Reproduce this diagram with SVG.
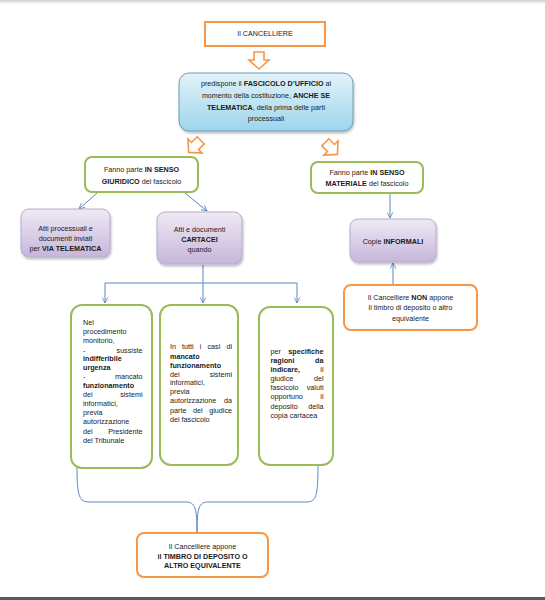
<svg xmlns="http://www.w3.org/2000/svg" width="545" height="600" viewBox="0 0 545 600">
<defs>
<style>
text{font-family:"Liberation Sans",Arial,sans-serif;font-size:7.2px;fill:#1a1a1a}
.c{text-anchor:middle}
.e{text-anchor:end}
.b{font-weight:bold}
.or{fill:#fff;stroke:#F79646;stroke-width:2}
.gr{fill:#fff;stroke:#9BBB59;stroke-width:2}
.pu{fill:url(#gp);stroke:#B8A8CF;stroke-width:1;filter:url(#sh)}
.bl{fill:url(#gb);stroke:#6E9AB8;stroke-width:1;filter:url(#sh)}
.ar{fill:#fff;stroke:#F79646;stroke-width:1.6;stroke-linejoin:miter}
.cn{fill:none;stroke:#5B87BF;stroke-width:1}
</style>
<linearGradient id="gp" x1="0" y1="0" x2="0" y2="1"><stop offset="0" stop-color="#EFEAF5"/><stop offset="1" stop-color="#C6B6DA"/></linearGradient>
<linearGradient id="gb" x1="0" y1="0" x2="0" y2="1"><stop offset="0" stop-color="#E3F3F9"/><stop offset="1" stop-color="#9DD6EC"/></linearGradient>
<linearGradient id="gt" x1="0" y1="0" x2="0" y2="1"><stop offset="0" stop-color="#cfcfcf"/><stop offset="1" stop-color="#ffffff"/></linearGradient>
<filter id="sh" x="-10%" y="-10%" width="130%" height="140%"><feDropShadow dx="1" dy="2" stdDeviation="1.2" flood-color="#000" flood-opacity="0.25"/></filter>
<marker id="v" viewBox="0 0 10 10" refX="9" refY="5" markerWidth="7" markerHeight="7" orient="auto" markerUnits="userSpaceOnUse"><path d="M1,1 L9,5 L1,9" fill="none" stroke="#5B87BF" stroke-width="1.2"/></marker>
<path id="harrow" d="M-5,-8 L5,-8 L5,0 L10,0 L0,9 L-10,0 L-5,0 Z"/>
</defs>
<rect x="0" y="0" width="545" height="600" fill="#fff"/>
<rect x="0" y="0" width="545" height="4" fill="url(#gt)"/>
<rect x="0" y="597" width="545" height="3" fill="#5a5a5a"/>

<g id="connectors">
<use href="#harrow" class="ar" transform="translate(259,60)"/>
<use href="#harrow" class="ar" transform="translate(195,146) rotate(45)"/>
<use href="#harrow" class="ar" transform="translate(331,148) rotate(-45)"/>
<line class="cn" x1="97" y1="193" x2="79" y2="209" marker-end="url(#v)"/>
<line class="cn" x1="185" y1="193" x2="207" y2="211" marker-end="url(#v)"/>
<line class="cn" x1="390" y1="193" x2="390" y2="218" marker-end="url(#v)"/>
<line class="cn" x1="393" y1="285" x2="393" y2="263" marker-end="url(#v)"/>
<line class="cn" x1="203" y1="265" x2="203" y2="283"/>
<line class="cn" x1="105" y1="283" x2="297" y2="283"/>
<line class="cn" x1="105" y1="283" x2="105" y2="303" marker-end="url(#v)"/>
<line class="cn" x1="203" y1="283" x2="203" y2="303" marker-end="url(#v)"/>
<line class="cn" x1="297" y1="283" x2="297" y2="303" marker-end="url(#v)"/>
<path class="cn" d="M77,465 C77,497 79,502 90,502 L186,502 C195,502 197,508 197,532 C197,508 199,502 208,502 L306,502 C316,502 318,497 318,465"/>
</g>

<g id="cancelliere">
<rect class="or" x="205" y="22" width="120" height="24"/>
<text class="c" x="265" y="36">Il CANCELLIERE</text>
</g>

<g id="fascicolo">
<rect class="bl" x="179" y="73" width="174" height="58" rx="10"/>
<text class="c" x="266" y="85.5">predispone il <tspan class="b">FASCICOLO D’UFFICIO</tspan> al</text>
<text class="c" x="266" y="97.5">momento della costituzione, <tspan class="b">ANCHE SE</tspan></text>
<text class="c" x="266" y="109.5"><tspan class="b">TELEMATICA</tspan>, della prima delle parti</text>
<text class="c" x="266" y="121">processuali</text>
</g>

<g id="giuridico">
<rect class="gr" x="85" y="157" width="113" height="35" rx="7"/>
<text class="c" x="141.5" y="171.5">Fanno parte <tspan class="b">IN SENSO</tspan></text>
<text class="c" x="141.5" y="183.5"><tspan class="b">GIURIDICO</tspan> del fascicolo</text>
</g>

<g id="materiale">
<rect class="gr" x="311" y="162" width="112" height="31" rx="7"/>
<text class="c" x="367" y="174.5">Fanno parte <tspan class="b">IN SENSO</tspan></text>
<text class="c" x="367" y="185.5"><tspan class="b">MATERIALE</tspan> del fascicolo</text>
</g>

<g id="telematica">
<rect class="pu" x="21" y="209" width="89" height="48" rx="8"/>
<text class="c" x="65.5" y="230.5">Atti processuali e</text>
<text class="c" x="65.5" y="240.5">documenti inviati</text>
<text class="c" x="65.5" y="250.5">per <tspan class="b">VIA TELEMATICA</tspan></text>
</g>

<g id="cartacei">
<rect class="pu" x="157" y="212" width="85" height="52" rx="8"/>
<text class="c" x="199.5" y="231.5">Atti e documenti</text>
<text class="c b" x="199.5" y="241.5">CARTACEI</text>
<text class="c" x="199.5" y="251.5">quando</text>
</g>

<g id="informali">
<rect class="pu" x="350" y="219" width="86" height="43" rx="8"/>
<text class="c" x="393" y="243.5">Copie <tspan class="b">INFORMALI</tspan></text>
</g>

<g id="non-appone">
<rect class="or" x="344" y="285" width="133" height="45" rx="7"/>
<text class="c" x="410.5" y="299.5">Il Cancelliere <tspan class="b">NON</tspan> appone</text>
<text class="c" x="410.5" y="309.5">il timbro di deposito o altro</text>
<text class="c" x="410.5" y="320.5">equivalente</text>
</g>

<g id="caso-monitorio">
<rect class="gr" x="71" y="305" width="81" height="163" rx="11"/>
<text x="83" y="325">Nel</text>
<text x="83" y="334">procedimento</text>
<text x="83" y="343">monitorio,</text>
<text x="83" y="352.5">-</text><text class="e" x="142.5" y="352.5">sussiste</text>
<text class="b" x="83" y="361">indifferibile</text>
<text class="b" x="83" y="369.5">urgenza</text>
<text x="83" y="379">-</text><text class="e" x="142.5" y="379">mancato</text>
<text class="b" x="83" y="387.5">funzionamento</text>
<text x="83" y="396.5">dei</text><text class="e" x="142.5" y="396.5">sistemi</text>
<text x="83" y="405.5">informatici,</text>
<text x="83" y="415">previa</text>
<text x="83" y="424">autorizzazione</text>
<text x="83" y="433.5">del</text><text class="e" x="142.5" y="433.5">Presidente</text>
<text x="83" y="442.5">del Tribunale</text>
</g>

<g id="caso-malfunzionamento">
<rect class="gr" x="160" y="305" width="78" height="160" rx="11"/>
<text x="170" y="349">In</text><text x="182.1" y="349">tutti</text><text x="199.8" y="349">i</text><text x="207.5" y="349">casi</text><text class="e" x="232" y="349">di</text>
<text class="b" x="170" y="358.5">mancato</text>
<text class="b" x="170" y="367.5">funzionamento</text>
<text x="170" y="376.5">dei</text><text class="e" x="232" y="376.5">sistemi</text>
<text x="170" y="385">informatici,</text>
<text x="170" y="394">previa</text>
<text x="170" y="403">autorizzazione</text><text class="e" x="232" y="403">da</text>
<text x="170" y="412.5">parte</text><text x="193" y="412.5">del</text><text class="e" x="232" y="412.5">giudice</text>
<text x="170" y="421.5">del fascicolo</text>
</g>

<g id="caso-ragioni">
<rect class="gr" x="259" y="307" width="74" height="158" rx="11"/>
<text x="270.5" y="353.5">per</text><text class="e b" x="323.5" y="353.5">specifiche</text>
<text class="b" x="270.5" y="363">ragioni</text><text class="e b" x="323.5" y="363">da</text>
<text class="b" x="270.5" y="371.5">indicare,</text><text class="e" x="323.5" y="371.5">il</text>
<text x="270.5" y="381">giudice</text><text class="e" x="323.5" y="381">del</text>
<text x="270.5" y="389.5">fascicolo</text><text class="e" x="323.5" y="389.5">valuti</text>
<text x="270.5" y="399">opportuno</text><text class="e" x="323.5" y="399">il</text>
<text x="270.5" y="408.5">deposito</text><text class="e" x="323.5" y="408.5">della</text>
<text x="270.5" y="417.5">copia cartacea</text>
</g>

<g id="appone-timbro">
<rect class="or" x="137" y="533" width="131" height="44" rx="7"/>
<text class="c" x="202.5" y="548.5">Il Cancelliere appone</text>
<text class="c b" x="202.5" y="558.5">il TIMBRO DI DEPOSITO O</text>
<text class="c b" x="202.5" y="567.5">ALTRO EQUIVALENTE</text>
</g>
</svg>
